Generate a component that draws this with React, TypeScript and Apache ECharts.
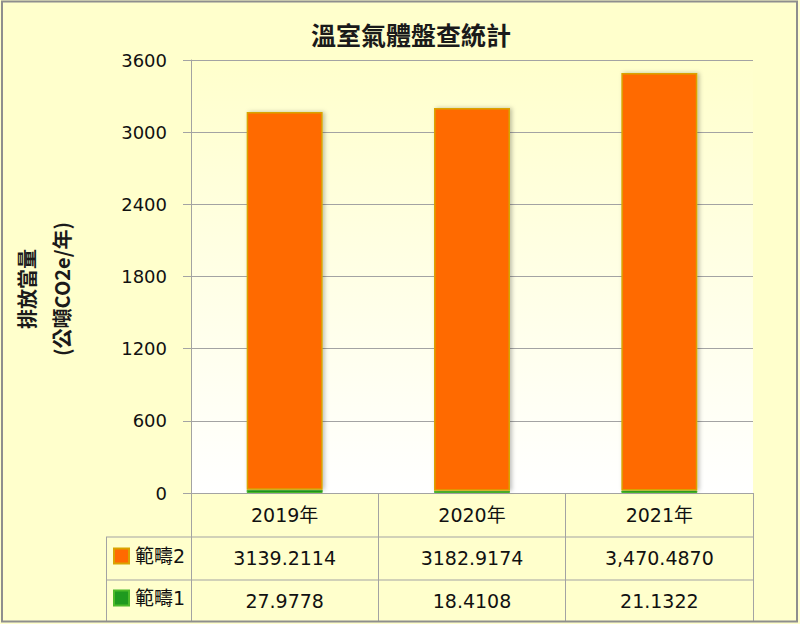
import React, { useEffect, useRef } from "react";
import * as echarts from "echarts";

const categories = ["2019年", "2020年", "2021年"];
const scope2Values = [3139.2114, 3182.9174, 3470.487];
const scope1Values = [27.9778, 18.4108, 21.1322];
const scope2Labels = ["3139.2114", "3182.9174", "3,470.4870"];
const scope1Labels = ["27.9778", "18.4108", "21.1322"];
const yTicks = { min: 0, max: 3600, interval: 600 };

const CJK = '"Noto Sans CJK TC", "Noto Sans", sans-serif';
const NUM = '"DejaVu Sans", "Noto Sans CJK TC", sans-serif';

export default function App() {
  const ref = useRef<HTMLDivElement>(null);
  useEffect(() => {
    if (!ref.current) return;
    const chart = echarts.init(ref.current, null, { renderer: "svg" });
    const gridLeft = 191;
    const gridRight = 753;
    const gridTop = 60;
    const gridBottom = 493;
    const lineColor = "#A3A3A3";
    chart.setOption({
      animation: false,
      backgroundColor: "#FFFFCC",
      title: {
        text: "溫室氣體盤查統計",
        left: 406,
        top: 16,
        textAlign: "center",
        textStyle: { fontFamily: CJK, fontSize: 25, fontWeight: "bold", color: "#1a1a1a" },
      },
      legend: {
        orient: "vertical",
        left: 108,
        top: 541,
        padding: 5,
        itemWidth: 15,
        itemHeight: 15,
        itemGap: 22,
        icon: "rect",
        data: ["範疇2", "範疇1"],
        textStyle: { fontFamily: NUM, fontSize: 19, color: "#111", lineHeight: 20, padding: [0, 0, 0, 1] },
        selectedMode: false,
      },
      grid: {
        left: gridLeft,
        right: 800 - gridRight,
        top: gridTop,
        bottom: 624 - gridBottom,
        show: true,
        borderWidth: 0,
        backgroundColor: {
          type: "linear",
          x: 0,
          y: 0,
          x2: 0,
          y2: 1,
          colorStops: [
            { offset: 0, color: "#FFFFCC" },
            { offset: 1, color: "#FFFFFF" },
          ],
        },
      },
      xAxis: {
        type: "category",
        data: categories,
        axisLine: { show: true, lineStyle: { color: lineColor, width: 1 } },
        axisTick: { show: true, length: 128, lineStyle: { color: lineColor, width: 1 } },
        axisLabel: {
          margin: 0,
          interval: 0,
          formatter: (v: string, i: number) =>
            `{h|${v}}\n{v|${scope2Labels[i]}}\n{v|${scope1Labels[i]}}`,
          rich: {
            h: { fontFamily: NUM, fontSize: 19, color: "#111", lineHeight: 43 },
            v: { fontFamily: NUM, fontSize: 19, color: "#111", lineHeight: 43 },
          },
        },
      },
      yAxis: {
        type: "value",
        min: yTicks.min,
        max: yTicks.max,
        interval: yTicks.interval,
        axisLine: { show: true, lineStyle: { color: lineColor } },
        axisTick: { show: true, length: 8, lineStyle: { color: lineColor } },
        axisLabel: {
          margin: 24,
          fontFamily: NUM,
          fontSize: 18,
          color: "#111",
          formatter: (v: number) => String(v),
        },
        splitLine: { show: true, lineStyle: { color: lineColor, width: 1 } },
      },
      series: [
        {
          name: "範疇1",
          type: "bar",
          stack: "total",
          barWidth: 76,
          data: scope1Values,
          itemStyle: { color: "#1F9A1F", borderColor: "#4DBA2A", borderWidth: 1 },
        },
        {
          name: "範疇2",
          type: "bar",
          stack: "total",
          barWidth: 76,
          data: scope2Values,
          itemStyle: {
            color: "#FF6A00",
            borderColor: "#D9A300",
            borderWidth: 1.5,
            shadowBlur: 4,
            shadowOffsetX: 2,
            shadowOffsetY: 0,
            shadowColor: "rgba(0,0,0,0.25)",
          },
        },
      ],
      graphic: [
        {
          type: "text",
          x: 44,
          y: 289,
          rotation: Math.PI / 2,
          style: {
            text: "排放當量\n(公噸CO2e/年)",
            fontFamily: CJK,
            fontSize: 20,
            fontWeight: "bold",
            lineHeight: 35,
            fill: "#1a1a1a",
            align: "center",
            verticalAlign: "middle",
          },
        },
        { type: "line", shape: { x1: 106, y1: 537, x2: gridRight, y2: 537 }, style: { stroke: lineColor, lineWidth: 1 } },
        { type: "line", shape: { x1: 106, y1: 580, x2: gridRight, y2: 580 }, style: { stroke: lineColor, lineWidth: 1 } },
        { type: "line", shape: { x1: 106.5, y1: 537, x2: 106.5, y2: 621 }, style: { stroke: lineColor, lineWidth: 1 } },
        {
          type: "rect",
          shape: { x: 2, y: 1.5, width: 795, height: 620 },
          style: { fill: "none", stroke: "#8E8E8E", lineWidth: 2 },
          z: 100,
        },
      ],
    });
    return () => chart.dispose();
  }, []);
  return (
    <div
      ref={ref}
      style={{ position: "fixed", left: 0, top: 0, width: 800, height: 624 }}
    />
  );
}
